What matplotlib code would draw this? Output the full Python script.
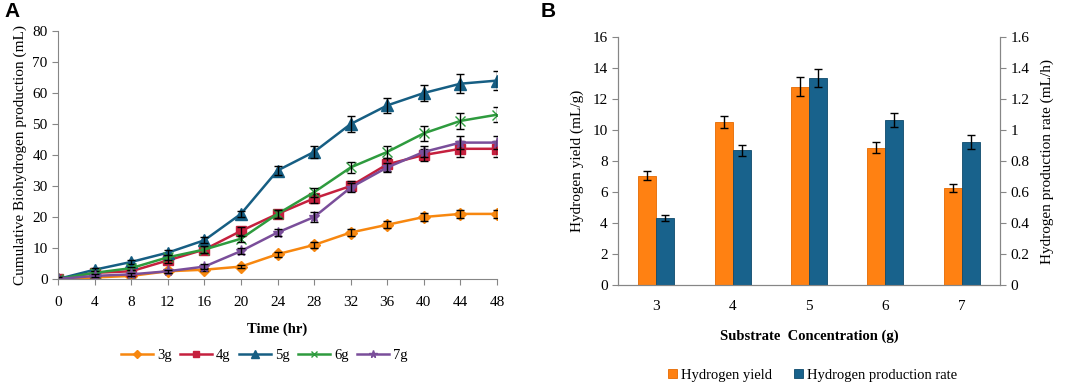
import numpy as np
import matplotlib.pyplot as plt

plt.rcParams['font.family'] = ['Liberation Serif', 'DejaVu Serif']

# panel A data
time_hr = [0, 4, 8, 12, 16, 20, 24, 28, 32, 36, 40, 44, 48]
g3 = [0, 0.5, 1, 2.5, 3, 4, 8, 11, 15, 17.5, 20, 21, 21]
g4 = [0, 2, 2.5, 6, 9.5, 15.5, 21, 26, 30, 37, 40, 42, 42]
g5 = [0, 3, 5.5, 8.5, 12.5, 21, 35, 41, 50, 56, 60, 63, 64]
g6 = [0, 2, 3.5, 7, 9.5, 13, 21, 28, 36, 41, 47, 51, 53]
g7 = [0, 1, 1.5, 2.5, 4, 9, 15, 20, 29.5, 36, 41, 44, 44]
err3 = [0.5, 0.5, 0.5, 0.5, 0.5, 0.5, 0.8, 1, 1, 1.2, 1.3, 1.3, 1.2]
err4 = [0.5, 0.5, 0.5, 0.8, 1, 1.2, 1.2, 1.5, 1.5, 2, 2, 2.5, 2.5]
err5 = [0.5, 0.5, 0.5, 0.8, 1, 1, 1.5, 2, 2.5, 2.5, 2.5, 3, 3]
err6 = [0.5, 0.5, 0.5, 0.8, 1, 1, 1.2, 1.5, 1.8, 2, 2.5, 2.5, 2.5]
err7 = [0.5, 0.5, 0.5, 0.5, 0.8, 1, 1, 1.5, 1.5, 1.5, 1.8, 2, 2]
labels_a = ['3g', '4g', '5g', '6g', '7g']

# panel B data
substrate = ['3', '4', '5', '6', '7']
h2_yield = [7.05, 10.5, 12.8, 8.85, 6.25]
yield_err = [0.3, 0.4, 0.6, 0.35, 0.25]
h2_rate = [0.43, 0.87, 1.335, 1.065, 0.92]
rate_err = [0.02, 0.035, 0.06, 0.045, 0.045]

fig = plt.figure(figsize=(10.65, 3.85), dpi=100)
grey = '#868686'

# ---- panel A
ax = fig.add_axes([0.0545, 0.2753, 0.4122, 0.6442])
series = [g3, g4, g5, g6, g7]
errs = [err3, err4, err5, err6, err7]
cols = ['#F7870F', '#C5203E', '#165E83', '#2E9B3E', '#7A4E9A']
marks = ['D', 's', '^', 'x', '*']
msz = [6, 7, 8, 7, 8]
for y, e, c, m, s, lab in zip(series, errs, cols, marks, msz, labels_a):
    ax.plot(time_hr, y, color=c, marker=m, markersize=s, lw=1.8,
            markeredgecolor=c, label=lab)
    ax.errorbar(time_hr, y, yerr=e, fmt='none', ecolor='black', elinewidth=1,
                capsize=3, capthick=1)
ax.set_xlim(0, 48)
ax.set_ylim(0, 80)
ax.set_xticks(time_hr)
ax.set_yticks(range(0, 81, 10))
ax.spines['top'].set_visible(False)
ax.spines['right'].set_visible(False)
ax.spines['left'].set_color(grey)
ax.spines['bottom'].set_color(grey)
ax.tick_params(colors=grey, labelcolor='black', labelsize=11, length=4)
ax.tick_params(axis='x', pad=8)
ax.set_xlabel('Time (hr)', fontweight='bold', fontsize=10.5, labelpad=10)
ax.set_ylabel('Cumulative Biohydrogen production (mL)', fontsize=11, labelpad=4)
ax.legend(loc='upper center', bbox_to_anchor=(0.47, -0.23), ncol=5, frameon=False,
          fontsize=10.5, handlelength=2.2, columnspacing=0.6, handletextpad=0.25,
          markerscale=0.7)
fig.text(0.004, 0.955, 'A', fontsize=15, fontweight='bold', family='Liberation Sans')

# ---- panel B
bx = fig.add_axes([0.5803, 0.2597, 0.3587, 0.6442])
bx2 = bx.twinx()
xpos = np.arange(len(substrate))
w = 0.235
bx.bar(xpos - w / 2, h2_yield, w, yerr=yield_err, color='#FF8112', edgecolor='#E56A00',
       lw=0.6, capsize=3, error_kw=dict(elinewidth=1, capthick=1, ecolor='black'),
       label='Hydrogen yield')
bx2.bar(xpos + w / 2, h2_rate, w, yerr=rate_err, color='#18628C', edgecolor='#0E4A6C',
        lw=0.6, capsize=3, error_kw=dict(elinewidth=1, capthick=1, ecolor='black'),
        label='Hydrogen production rate')
bx.set_xlim(-0.5, 4.5)
bx.set_ylim(0, 16)
bx2.set_ylim(0, 1.6)
bx.set_yticks(range(0, 17, 2))
bx2.set_yticks(np.arange(0, 1.61, 0.2))
bx2.set_yticklabels(['0', '0.2', '0.4', '0.6', '0.8', '1', '1.2', '1.4', '1.6'])
bx.set_xticks(xpos)
bx.set_xticklabels(substrate)
for a in (bx, bx2):
    a.spines['top'].set_visible(False)
    for sp in ('left', 'right', 'bottom'):
        a.spines[sp].set_color(grey)
    a.tick_params(colors=grey, labelcolor='black', labelsize=11, length=4)
bx.tick_params(axis='x', length=0, pad=11)
bx.set_xlabel('Substrate  Concentration (g)', fontweight='bold', fontsize=10.5, labelpad=12)
bx.set_ylabel('Hydrogen yield (mL/g)', fontsize=11, labelpad=6)
bx2.set_ylabel('Hydrogen production rate (mL/h)', fontsize=11, labelpad=8)
h1, l1 = bx.get_legend_handles_labels()
h2, l2 = bx2.get_legend_handles_labels()
bx.legend(h1 + h2, l1 + l2, loc='upper center', bbox_to_anchor=(0.51, -0.285), ncol=2,
          frameon=False, fontsize=10.5, handlelength=0.6, handleheight=0.6,
          handletextpad=0.3, columnspacing=1.5)
fig.text(0.5075, 0.955, 'B', fontsize=15, fontweight='bold', family='Liberation Sans')

fig.savefig('out.png', dpi=100)
